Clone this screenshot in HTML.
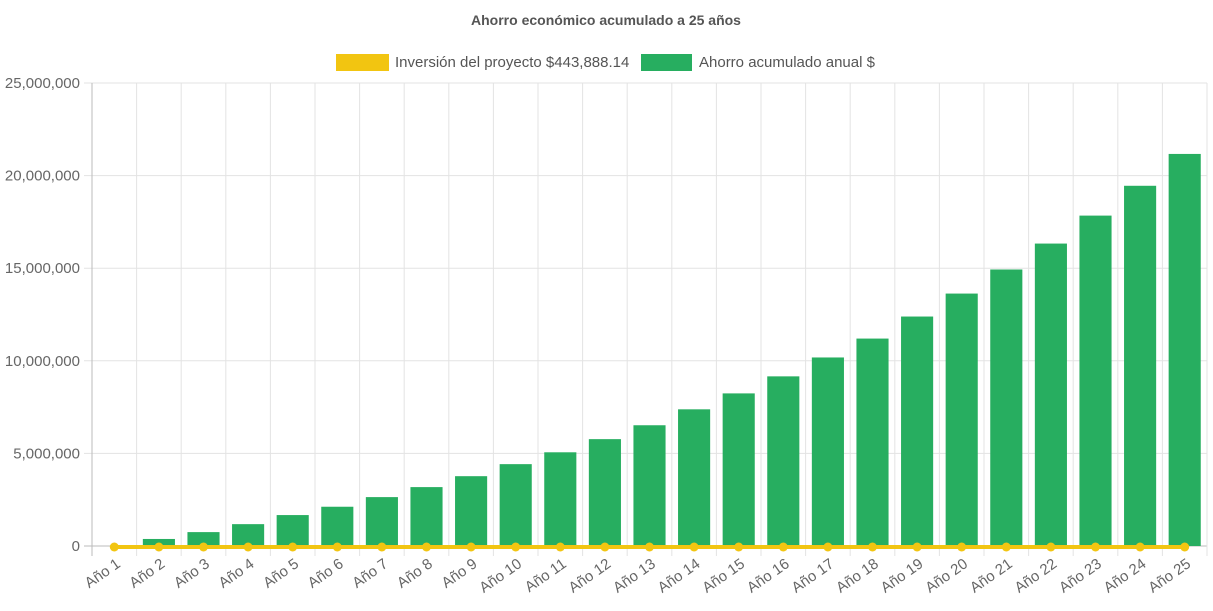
<!DOCTYPE html>
<html><head><meta charset="utf-8"><style>
body{margin:0;background:#fff;font-family:"Liberation Sans",Arial,sans-serif}
</style></head><body>
<svg id="c" width="1213" height="606" xmlns="http://www.w3.org/2000/svg" font-family="Liberation Sans, Arial, sans-serif"></svg>
<script>
const categories=["Año 1","Año 2","Año 3","Año 4","Año 5","Año 6","Año 7","Año 8","Año 9","Año 10","Año 11","Año 12","Año 13","Año 14","Año 15","Año 16","Año 17","Año 18","Año 19","Año 20","Año 21","Año 22","Año 23","Año 24","Año 25"];
const savings=[0,380000,750000,1180000,1670000,2120000,2640000,3180000,3770000,4420000,5060000,5770000,6520000,7380000,8240000,9160000,10180000,11200000,12390000,13630000,14930000,16330000,17840000,19450000,21170000];
const investment=[0,0,0,0,0,0,0,0,0,0,0,0,0,0,0,0,0,0,0,0,0,0,0,0,0];
const yTicks=[0,5000000,10000000,15000000,20000000,25000000];
const yTickLabels=["0","5,000,000","10,000,000","15,000,000","20,000,000","25,000,000"];
const svg=document.getElementById('c');const NS="http://www.w3.org/2000/svg";
const L=92,R=1207,T=83,B=546,yMax=25000000;
const bw=(R-L)/categories.length;
const x=i=>L+bw*(i+0.5);
const y=v=>B-(v/yMax)*(B-T);
function mk(t,a,p){const e=document.createElementNS(NS,t);for(const k in a)e.setAttribute(k,a[k]);(p||svg).appendChild(e);return e;}
let e;
e=mk('text',{x:606,y:25,'text-anchor':'middle','font-size':14,'font-weight':'bold',fill:'#555'});e.textContent='Ahorro económico acumulado a 25 años';


e=mk('rect',{x:336,y:54,width:53,height:17,fill:'#f2c511'});


e=mk('text',{x:395,y:67,'font-size':15,fill:'#555'});e.textContent='Inversión del proyecto $443,888.14';


e=mk('rect',{x:641,y:54,width:51,height:17,fill:'#27ae60'});


e=mk('text',{x:699,y:67,'font-size':15,fill:'#555'});e.textContent='Ahorro acumulado anual $';


yTicks.forEach((v,i)=>{
 e=mk('line',{x1:L-8,x2:R,y1:y(v),y2:y(v),stroke:i==0?'#bbb':'#e3e3e3','stroke-width':1});
 
 
 e=mk('text',{x:L-12,y:y(v)+5,'text-anchor':'end','font-size':15,fill:'#666'});e.textContent=yTickLabels[i];
 
 
});
for(let i=0;i<=categories.length;i++){
 const gx=L+bw*i;
 e=mk('line',{x1:gx,x2:gx,y1:T,y2:B+10,stroke:i==0?'#bbb':'#e3e3e3','stroke-width':1});
 
 
}
savings.forEach((v,i)=>{
 const w=bw*0.72;
 e=mk('rect',{x:x(i)-w/2,y:y(v),width:w,height:Math.max(0,B-y(v)),fill:'#27ae60'});
 
 
});
e=mk('polyline',{points:investment.map((v,i)=>x(i)+','+(y(v)+1)).join(' '),fill:'none',stroke:'#f2c511','stroke-width':4});


investment.forEach((v,i)=>{
 e=mk('circle',{cx:x(i),cy:y(v)+1,r:4.5,fill:'#f2c511'});
 
 
});
categories.forEach((c,i)=>{
 e=mk('text',{x:x(i)+7,y:B+20,'text-anchor':'end','font-size':15,fill:'#666',transform:`rotate(-35 ${x(i)+7} ${B+20})`});e.textContent=c;
 
 
});
</script>
</body></html>
